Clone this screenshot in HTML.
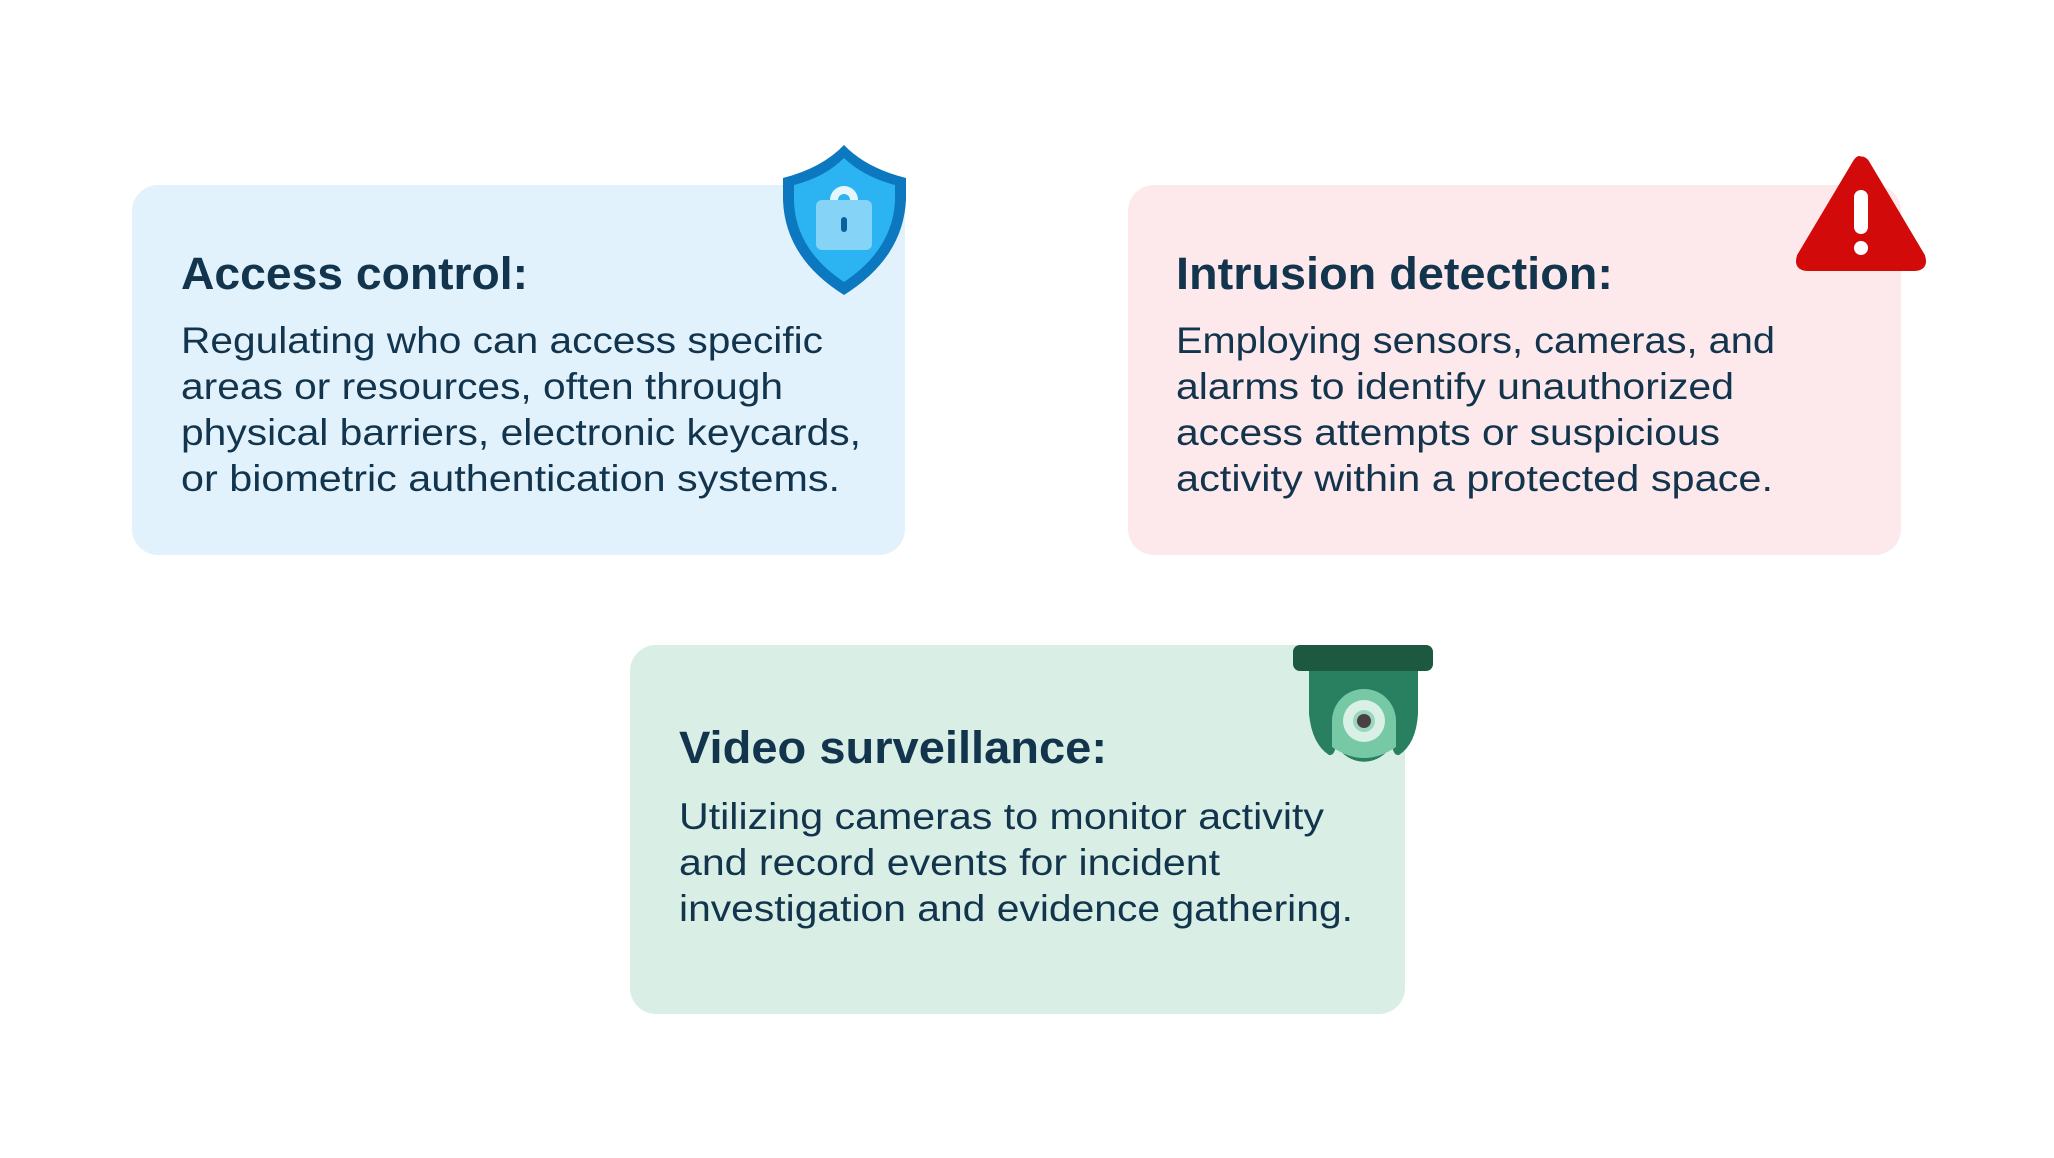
<!DOCTYPE html>
<html><head><meta charset="utf-8"><style>
html,body{margin:0;padding:0;background:#fff;}
svg{display:block}
text{font-family:"Liberation Sans",sans-serif;fill:#12344d}
.t{font-weight:bold;font-size:45px}
.b{font-size:37px}
</style></head><body>
<svg width="2054" height="1158" viewBox="0 0 2054 1158">
<rect x="132" y="185" width="773" height="370" rx="26" fill="#e1f2fc"/>
<rect x="1128" y="185" width="773" height="370" rx="26" fill="#fde9ec"/>
<rect x="630" y="645" width="775" height="369" rx="26" fill="#d9efe6"/>

<text class="t" x="181" y="289" textLength="347" lengthAdjust="spacingAndGlyphs">Access control:</text>
<text class="b" x="181" y="353" textLength="642" lengthAdjust="spacingAndGlyphs">Regulating who can access specific</text>
<text class="b" x="181" y="399" textLength="602" lengthAdjust="spacingAndGlyphs">areas or resources, often through</text>
<text class="b" x="181" y="445" textLength="680" lengthAdjust="spacingAndGlyphs">physical barriers, electronic keycards,</text>
<text class="b" x="181" y="491" textLength="659" lengthAdjust="spacingAndGlyphs">or biometric authentication systems.</text>

<text class="t" x="1176" y="289" textLength="437" lengthAdjust="spacingAndGlyphs">Intrusion detection:</text>
<text class="b" x="1176" y="353" textLength="599" lengthAdjust="spacingAndGlyphs">Employing sensors, cameras, and</text>
<text class="b" x="1176" y="399" textLength="558" lengthAdjust="spacingAndGlyphs">alarms to identify unauthorized</text>
<text class="b" x="1176" y="445" textLength="544" lengthAdjust="spacingAndGlyphs">access attempts or suspicious</text>
<text class="b" x="1176" y="491" textLength="597" lengthAdjust="spacingAndGlyphs">activity within a protected space.</text>

<text class="t" x="679" y="763" textLength="428" lengthAdjust="spacingAndGlyphs">Video surveillance:</text>
<text class="b" x="679" y="829" textLength="645" lengthAdjust="spacingAndGlyphs">Utilizing cameras to monitor activity</text>
<text class="b" x="679" y="875" textLength="541" lengthAdjust="spacingAndGlyphs">and record events for incident</text>
<text class="b" x="679" y="921" textLength="674" lengthAdjust="spacingAndGlyphs">investigation and evidence gathering.</text>

<!-- shield -->
<path d="M844 145 Q866 168 906 178 L906 200 Q903 258 844 295 Q785 258 783 200 L783 178 Q822 168 844 145Z" fill="#0b78bf"/>
<path d="M844 158 Q864 177 895 185 L895 202 Q892 250 844 282 Q796 250 794 202 L794 185 Q825 177 844 158Z" fill="#2bb3f2"/>
<path d="M830 200 a14 14 0 0 1 28 0 v12 h-8 v-12 a6 6 0 0 0 -12 0 v12 h-8z" fill="#e6f6fe"/>
<rect x="816" y="200" width="56" height="50" rx="6" fill="#86d3f8"/>
<rect x="841" y="217" width="6" height="15" rx="3" fill="#0b5f9a"/>

<!-- warning -->
<path d="M1861 162 Q1861 157 1866 162 L1922 256 Q1926 268 1914 268 L1808 268 Q1796 268 1800 256 L1856 162 Q1860 156 1861 162Z" fill="#d20a0a" stroke="#d20a0a" stroke-width="6" stroke-linejoin="round"/>
<rect x="1854" y="190" width="14" height="44" rx="7" fill="#fff"/>
<circle cx="1861" cy="248" r="7" fill="#fff"/>

<!-- camera -->
<path d="M1309 668 L1418 668 L1418 714 Q1416 744 1399 755 Q1393 756 1392 744 A31 31 0 0 1 1336 744 Q1335 756 1329 755 Q1312 744 1309 714Z" fill="#288060"/>
<path d="M1332 747 L1332 721 A32 32 0 0 1 1396 721 L1396 747 Q1364 769 1332 747Z" fill="#77c9a6"/>
<circle cx="1364" cy="721" r="21" fill="#d8f0e6"/>
<circle cx="1364" cy="721" r="11" fill="#9ad6bc"/>
<circle cx="1364" cy="721" r="7" fill="#4a3f45"/>
<rect x="1293" y="645" width="140" height="26" rx="7" fill="#1d5840"/>
</svg>
</body></html>
